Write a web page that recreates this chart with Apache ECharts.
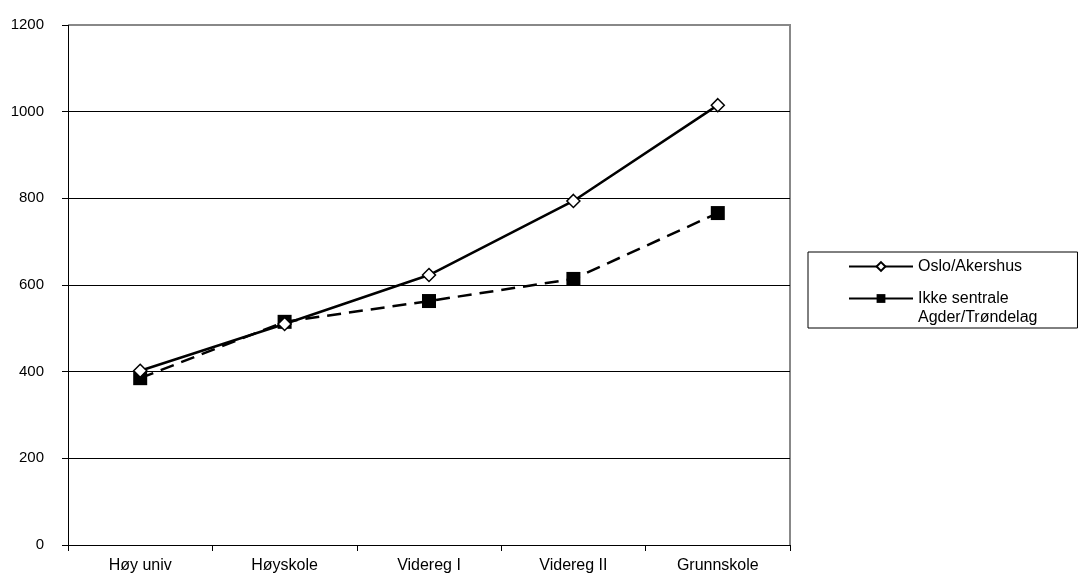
<!DOCTYPE html>
<html><head><meta charset="utf-8">
<script src="https://cdn.jsdelivr.net/npm/echarts@6/dist/echarts.min.js"></script>
<style>html,body{margin:0;padding:0;background:#fff}#c{width:1088px;height:583px}</style>
</head><body><div id="c"></div>
<script>
var categories = ['Høy univ', 'Høyskole', 'Videreg I', 'Videreg II', 'Grunnskole'];
var osloValues = [402, 510, 623, 794, 1015];
var ikkeValues = [385, 515, 563, 614, 766];
var yTicks = [0, 200, 400, 600, 800, 1000, 1200];
var seriesNames = ['Oslo/Akershus', 'Ikke sentrale\nAgder/Trøndelag'];

var chart = echarts.init(document.getElementById('c'));
var font = 'Liberation Sans, Arial, sans-serif';
chart.setOption({
  animation: false,
  grid: {left: 68, right: 298, top: 25, bottom: 38},
  xAxis: {
    type: 'category', data: categories, boundaryGap: true,
    axisLine: {lineStyle: {color: '#000', width: 1}},
    axisTick: {show: true, length: 6, lineStyle: {color: '#000'}, interval: 0},
    axisLabel: {color: '#000', fontFamily: font, fontSize: 16, margin: 13, interval: 0}
  },
  yAxis: {
    type: 'value', min: yTicks[0], max: yTicks[yTicks.length - 1], interval: 200,
    axisLine: {show: true, lineStyle: {color: '#000', width: 1}},
    axisTick: {show: true, length: 6, lineStyle: {color: '#000'}},
    axisLabel: {color: '#000', fontFamily: font, fontSize: 15, margin: 24,
      formatter: function (v) { return String(v); }},
    splitLine: {show: true, showMaxLine: false, lineStyle: {color: '#000', width: 1}}
  },
  legend: {
    orient: 'vertical', left: 808, top: 252,
    padding: [5, 40, 1, 40], itemGap: -6,
    borderColor: '#000', borderWidth: 1,
    itemWidth: 64, itemHeight: 11,
    lineStyle: {type: 'solid', width: 2},
    textStyle: {color: '#000', fontFamily: font, fontSize: 16, lineHeight: 19},
    formatter: function (name) { return name === seriesNames[1] ? '\n' + name : name; },
    data: [{name: seriesNames[0]}, {name: seriesNames[1]}]
  },
  graphic: [{
    type: 'polyline', shape: {points: [[69, 25], [790, 25], [790, 545]]},
    style: {stroke: '#888', lineWidth: 2, fill: null}, z: 0
  }],
  series: [
    {
      name: seriesNames[0], type: 'line', data: osloValues,
      symbol: 'diamond', symbolSize: 13,
      lineStyle: {color: '#000', width: 2.5},
      itemStyle: {color: '#fff', borderColor: '#000', borderWidth: 1.5},
      z: 3
    },
    {
      name: seriesNames[1], type: 'line', data: ikkeValues,
      symbol: 'rect', symbolSize: 14,
      lineStyle: {color: '#000', width: 2.5, type: [14, 8]},
      itemStyle: {color: '#000', borderColor: '#000', borderWidth: 0},
      z: 2
    }
  ]
});
</script></body></html>
